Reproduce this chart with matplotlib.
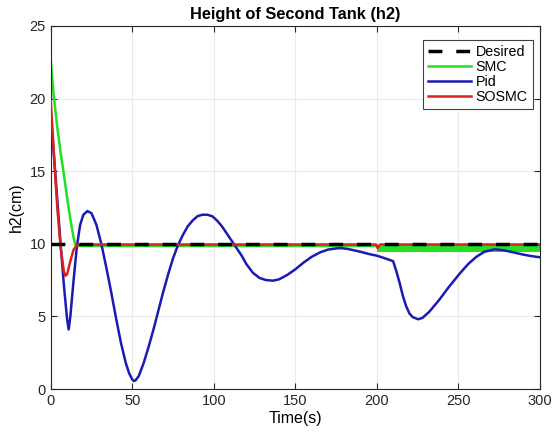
import matplotlib

matplotlib.use("Agg")
import matplotlib.pyplot as plt

plt.rcParams["font.family"] = ["Liberation Sans", "DejaVu Sans"]

# desired level
desired_t = [0, 300]
desired_h = [10, 10]

# SMC (green) - smooth part, then chattering band after t=200
smc_t = [0, 1, 2, 4, 6, 8, 10, 12, 14, 15.2, 17, 20, 50, 100, 150, 200]
smc_h = [22.6, 21.2, 20.0, 18.0, 16.3, 14.8, 13.2, 11.7, 10.4, 9.9, 9.85, 9.85, 9.85, 9.85, 9.85, 9.85]
smc_band_t = [200, 300]
smc_band_lo = [9.45, 9.45]
smc_band_hi = [9.9, 9.9]

# PID (blue)
pid_t = [0, 2, 4, 6, 8, 10, 11, 12, 14, 16, 18, 20, 22.5, 25, 28, 31, 34, 37, 40,
         43, 46, 48, 50, 51, 52, 54, 57, 60, 63, 66, 69, 72, 75, 78, 81, 84, 87,
         90, 93, 96, 99, 102, 105, 108, 111, 114, 117, 120, 124, 128, 132, 136.4,
         140, 145, 150, 155, 160, 165, 170, 175, 178, 182, 186, 190, 195, 200, 205,
         210, 212, 214, 216, 218, 220, 222, 225.4, 228, 232, 238, 244, 251, 256,
         261, 266, 272.4, 278, 284, 290, 295, 300]
pid_h = [19.0, 16.0, 13.0, 10.0, 7.2, 4.8, 4.1, 5.0, 7.5, 9.8, 11.3, 12.0, 12.25, 12.1,
         11.3, 10.0, 8.4, 6.7, 4.9, 3.2, 1.8, 1.1, 0.65, 0.55, 0.6, 0.9, 1.8, 2.9,
         4.1, 5.4, 6.7, 7.9, 9.0, 9.9, 10.6, 11.2, 11.6, 11.9, 12.0, 12.0, 11.9,
         11.6, 11.2, 10.7, 10.2, 9.7, 9.2, 8.6, 8.0, 7.65, 7.5, 7.46, 7.55, 7.85,
         8.24, 8.7, 9.1, 9.4, 9.6, 9.68, 9.7, 9.65, 9.55, 9.45, 9.3, 9.18, 9.0,
         8.8, 8.1, 7.3, 6.4, 5.7, 5.2, 4.95, 4.8, 4.9, 5.3, 6.1, 7.0, 7.97, 8.6,
         9.1, 9.45, 9.62, 9.55, 9.4, 9.25, 9.15, 9.07]

# SOSMC (red)
sosmc_t = [0, 2, 4, 6, 8, 9, 10, 12, 14, 16, 20, 100, 199.5, 200.5, 202, 300]
sosmc_h = [19.8, 16.0, 12.5, 9.8, 8.1, 7.8, 7.9, 8.8, 9.6, 9.9, 9.95, 9.95, 9.95, 9.7, 9.95, 9.95]

fig = plt.figure(figsize=(5.52, 4.32), dpi=100)
ax = fig.add_axes([0.092, 0.0995, 0.886, 0.8405])

ax.plot(desired_t, desired_h, color="black", linestyle=(0, (4, 4)), linewidth=2.5,
        label="Desired", zorder=5)
ax.plot(smc_t, smc_h, color="#22e022", linewidth=1.8, label="SMC", zorder=2)
ax.fill_between(smc_band_t, smc_band_lo, smc_band_hi, color="#22e022", linewidth=0, zorder=2)
ax.plot(pid_t, pid_h, color="#1a1ab4", linewidth=1.8, label="Pid", zorder=3)
ax.plot(sosmc_t, sosmc_h, color="#dd1f1f", linewidth=1.8, label="SOSMC", zorder=4)

ax.set_xlim(0, 300)
ax.set_ylim(0, 25)
ax.set_xticks(range(0, 301, 50))
ax.set_yticks(range(0, 26, 5))
ax.grid(True, color="#ebebeb", linewidth=0.8)
ax.set_axisbelow(True)
ax.tick_params(direction="in", top=True, right=True, labelsize=10.5, colors="#262626",
               length=4)
for sp in ax.spines.values():
    sp.set_color("#262626")
    sp.set_linewidth(0.8)

ax.set_title("Height of Second Tank (h2)", fontsize=11.8, fontweight="bold", pad=5)
ax.set_xlabel("Time(s)", fontsize=11.5, labelpad=2)
ax.set_ylabel("h2(cm)", fontsize=11.5, labelpad=4)

leg = ax.legend(loc="upper right", bbox_to_anchor=(0.985, 0.962), fontsize=10.3,
                fancybox=False, framealpha=1, edgecolor="#404040", handlelength=3.0,
                handletextpad=0.3, borderpad=0.35, labelspacing=0.08, borderaxespad=0)
leg.get_frame().set_linewidth(0.8)

fig.savefig("out.png", dpi=100)
